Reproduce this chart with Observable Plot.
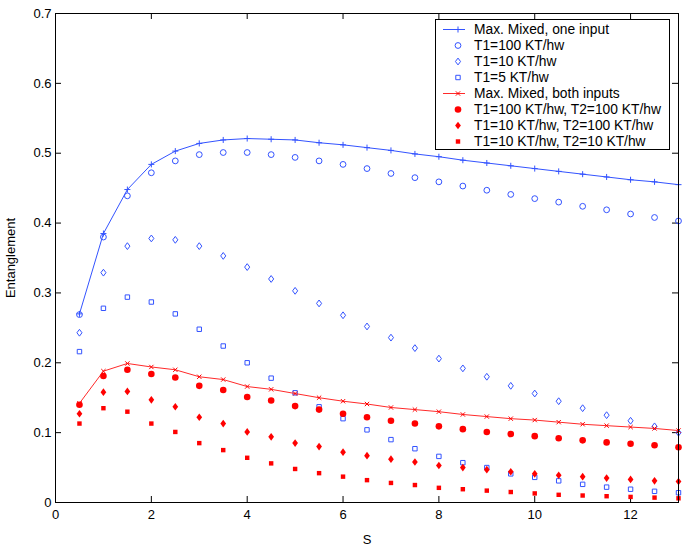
<!DOCTYPE html>
<html>
<head>
<meta charset="utf-8">
<script src="https://cdn.jsdelivr.net/npm/d3@7"></script>
<script src="https://cdn.jsdelivr.net/npm/@observablehq/plot@0.6"></script>
<style>
  html, body { margin: 0; padding: 0; background: #fff; }
  #wrap { position: relative; width: 684px; height: 550px; font-family: "Liberation Sans", Arial, Helvetica, sans-serif; }
  #legend { position: absolute; left: 435px; top: 19px; width: 233px; height: 129px; border: 1px solid #000; background: #fff; }
</style>
</head>
<body>
<div id="wrap"></div>
<script>
// ---- data ----
const S = [0.5,1,1.5,2,2.5,3,3.5,4,4.5,5,5.5,6,6.5,7,7.5,8,8.5,9,9.5,10,10.5,11,11.5,12,12.5,13];
const maxMixedOne = [0.270,0.385,0.448,0.484,0.503,0.514,0.519,0.521,0.520,0.519,0.515,0.512,0.508,0.504,0.499,0.495,0.490,0.486,0.482,0.478,0.474,0.470,0.466,0.462,0.459,0.455];
const t1_100 = [0.269,0.380,0.439,0.472,0.489,0.498,0.501,0.501,0.498,0.494,0.489,0.484,0.478,0.471,0.465,0.459,0.453,0.447,0.441,0.435,0.430,0.424,0.419,0.413,0.408,0.403];
const t1_10 = [0.243,0.329,0.367,0.378,0.376,0.367,0.353,0.337,0.320,0.303,0.285,0.268,0.252,0.236,0.221,0.206,0.192,0.180,0.167,0.156,0.145,0.135,0.125,0.117,0.109,0.100];
const t1_5 = [0.216,0.278,0.294,0.287,0.270,0.248,0.224,0.200,0.178,0.157,0.137,0.120,0.104,0.090,0.077,0.066,0.057,0.050,0.041,0.036,0.031,0.026,0.022,0.019,0.016,0.014];
const maxMixedBoth = [0.142,0.188,0.199,0.194,0.190,0.180,0.176,0.166,0.162,0.156,0.150,0.145,0.141,0.136,0.133,0.130,0.126,0.123,0.120,0.118,0.115,0.112,0.110,0.108,0.106,0.103];
const t1_100_t2_100 = [0.140,0.181,0.190,0.184,0.179,0.167,0.161,0.151,0.146,0.138,0.133,0.127,0.122,0.117,0.113,0.109,0.105,0.101,0.098,0.095,0.092,0.089,0.086,0.084,0.082,0.079];
const t1_10_t2_100 = [0.127,0.158,0.159,0.147,0.137,0.122,0.113,0.101,0.094,0.085,0.080,0.072,0.067,0.062,0.058,0.053,0.050,0.047,0.044,0.041,0.039,0.037,0.035,0.033,0.031,0.030];
const t1_10_t2_10 = [0.113,0.135,0.130,0.113,0.101,0.085,0.075,0.064,0.056,0.048,0.042,0.037,0.032,0.028,0.025,0.021,0.019,0.017,0.015,0.013,0.011,0.010,0.009,0.008,0.007,0.006];
const xTicks = [0,2,4,6,8,10,12];
const yTicks = [0,0.1,0.2,0.3,0.4,0.5,0.6,0.7];
const labels = ["Max. Mixed, one input","T1=100 KT/hw","T1=10 KT/hw","T1=5 KT/hw","Max. Mixed, both inputs","T1=100 KT/hw, T2=100 KT/hw","T1=10 KT/hw, T2=100 KT/hw","T1=10 KT/hw, T2=10 KT/hw"];

// MATLAB-like diamond (wider than d3's)
const matlabDiamond = {
  draw(context, size) {
    const s = Math.sqrt(size);
    const hy = 0.8 * s, hx = 0.6 * s;
    context.moveTo(0, -hy);
    context.lineTo(hx, 0);
    context.lineTo(0, hy);
    context.lineTo(-hx, 0);
    context.closePath();
  }
};

// ---- styles ----
const BLUE = "#3353ff", RED = "#ff0000", REDLINE = "#ff2a2a";
const seriesDefs = [
  {values: maxMixedOne, line: true, symbol: d3.symbolPlus, r: 2.1, color: BLUE, filled: false, lineColor: BLUE},
  {values: t1_100, symbol: d3.symbolCircle, r: 2.9, color: BLUE, filled: false},
  {values: t1_10, symbol: matlabDiamond, r: 2.4, color: BLUE, filled: false},
  {values: t1_5, symbol: d3.symbolSquare, r: 2.5, color: BLUE, filled: false},
  {values: maxMixedBoth, line: true, symbol: d3.symbolTimes, r: 2.1, color: RED, filled: false, lineColor: REDLINE},
  {values: t1_100_t2_100, symbol: d3.symbolCircle, r: 3.3, color: RED, filled: true},
  {values: t1_10_t2_100, symbol: matlabDiamond, r: 2.7, color: RED, filled: true},
  {values: t1_10_t2_10, symbol: d3.symbolSquare, r: 2.5, color: RED, filled: true}
];

const W = 684, H = 550, mL = 55, mR = 6, mT = 13, mB = 48;
const innerW = W - mL - mR, innerH = H - mT - mB, TK = 6;

const marks = [];
seriesDefs.forEach(s => {
  const data = S.map((x, i) => ({x, y: s.values[i]}));
  if (s.line) marks.push(Plot.line(data, {x: "x", y: "y", stroke: s.lineColor, strokeWidth: 1}));
  marks.push(Plot.dot(data, {
    x: "x", y: "y", symbol: s.symbol, r: s.r,
    fill: s.filled ? s.color : "none",
    stroke: s.filled ? "none" : s.color,
    strokeWidth: 1
  }));
});

const plot = Plot.plot({
  width: W, height: H,
  marginLeft: mL, marginRight: mR, marginTop: mT, marginBottom: mB,
  style: {fontFamily: '"Liberation Sans", Arial, Helvetica, sans-serif', fontSize: "13px", color: "#000", background: "#fff"},
  x: {domain: [0, 13]},
  y: {domain: [0, 0.7]},
  marks: [
    Plot.axisX(xTicks, {tickSize: 0, tickPadding: 7, fontSize: 13, label: "S", labelAnchor: "center", labelArrow: "none", labelOffset: 41}),
    Plot.axisY(yTicks, {tickSize: 0, tickPadding: 4, fontSize: 13, tickFormat: d => d === 0 ? "0" : d.toFixed(1), label: "Entanglement", labelAnchor: "center", labelArrow: "none", labelOffset: 50}),
    Plot.tickX(xTicks, {x: d => d, insetTop: innerH - TK, stroke: "#000"}),
    Plot.tickX(xTicks, {x: d => d, insetBottom: innerH - TK, stroke: "#000"}),
    Plot.tickY(yTicks, {y: d => d, insetRight: innerW - TK, stroke: "#000"}),
    Plot.tickY(yTicks, {y: d => d, insetLeft: innerW - TK, stroke: "#000"}),
    ...marks,
    Plot.frame({stroke: "#000", strokeWidth: 1})
  ]
});
const wrap = document.getElementById("wrap");
wrap.appendChild(plot);

// ---- legend ----
const leg = document.createElement("div");
leg.id = "legend";
wrap.appendChild(leg);
const lsvg = d3.select(leg).append("svg").attr("width", 233).attr("height", 129)
  .style("font-family", '"Liberation Sans", Arial, Helvetica, sans-serif').style("font-size", "13.8px");
seriesDefs.forEach((s, i) => {
  const cy = 9.5 + 16 * i;
  const g = lsvg.append("g").attr("transform", `translate(0,${cy})`);
  if (s.line) g.append("line").attr("x1", 7).attr("x2", 29).attr("y1", 0).attr("y2", 0).attr("stroke", s.lineColor).attr("stroke-width", 1);
  g.append("path").attr("transform", "translate(22,0)")
    .attr("d", d3.symbol(s.symbol, Math.PI * s.r * s.r)())
    .attr("fill", s.filled ? s.color : "none")
    .attr("stroke", s.filled ? "none" : s.color).attr("stroke-width", 1);
  g.append("text").attr("x", 38).attr("y", 0).attr("dy", "0.35em").attr("fill", "#000").text(labels[i]);
});
</script>
</body>
</html>
